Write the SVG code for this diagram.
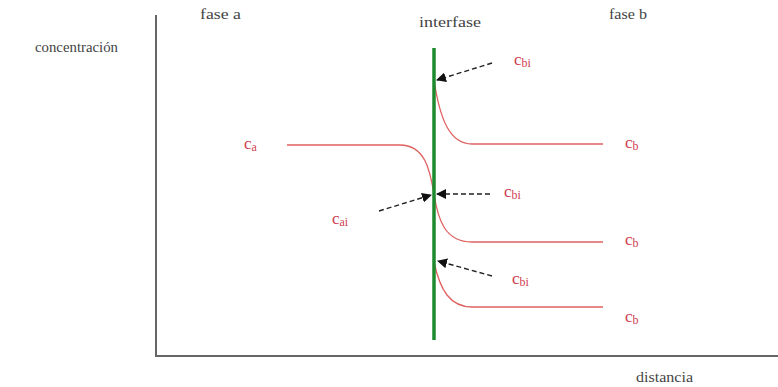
<svg xmlns="http://www.w3.org/2000/svg" width="778" height="387" viewBox="0 0 778 387">
<style>
.t{font-family:"Liberation Serif",serif;font-size:14px;fill:#444}
.r{font-family:"Liberation Serif",serif;font-size:17px;fill:#d04050}
.s{font-size:12px}
.curve{fill:none;stroke:#e06060;stroke-width:1.3}
.arr{fill:none;stroke:#222;stroke-width:1.4;stroke-dasharray:5,3;marker-end:url(#ah)}
</style>
<defs>
<marker id="ah" viewBox="0 0 10 10" refX="9" refY="5" markerWidth="10" markerHeight="10" markerUnits="userSpaceOnUse" orient="auto">
<path d="M0,0 L10,5 L0,10 z" fill="#111"/>
</marker>
</defs>
<rect width="778" height="387" fill="#fff"/>
<g id="axes">
<path d="M156,15 V356 H778" fill="none" stroke="#666" stroke-width="2"/>
</g>
<g id="labels">
<text class="t" x="35" y="52" textLength="83" lengthAdjust="spacingAndGlyphs">concentración</text>
<text class="t" x="200" y="19" textLength="41" lengthAdjust="spacingAndGlyphs">fase a</text>
<text class="t" x="419" y="27" textLength="62" lengthAdjust="spacingAndGlyphs">interfase</text>
<text class="t" x="609" y="19" textLength="38" lengthAdjust="spacingAndGlyphs">fase b</text>
<text class="t" x="636" y="382" textLength="57" lengthAdjust="spacingAndGlyphs">distancia</text>
</g>
<g id="profiles">
<path class="curve" d="M434,80 C440,120 450,144 472,144 H603"/>
<path class="curve" d="M287,145 H400 C425,145 430,170 434,194 C438,220 445,242 472,242 H603"/>
<path class="curve" d="M434,262 C440,290 450,307 472,307 H603"/>
</g>
<g id="interface">
<line x1="434" y1="48" x2="434" y2="340" stroke="#1e8a2e" stroke-width="3.5"/>
</g>
<g id="connectors">
<line class="arr" x1="492" y1="63" x2="437" y2="80"/>
<line class="arr" x1="490" y1="194" x2="437" y2="194"/>
<line class="arr" x1="379" y1="211" x2="431" y2="195"/>
<line class="arr" x1="492" y1="276" x2="438" y2="261"/>
</g>
<g id="conc-labels">
<text class="r" x="244" y="149">c<tspan class="s" dy="2">a</tspan></text>
<text class="r" x="514" y="65">c<tspan class="s" dy="2">bi</tspan></text>
<text class="r" x="504" y="197">c<tspan class="s" dy="2">bi</tspan></text>
<text class="r" x="332" y="224">c<tspan class="s" dy="2">ai</tspan></text>
<text class="r" x="512" y="284">c<tspan class="s" dy="2">bi</tspan></text>
<text class="r" x="625" y="148">c<tspan class="s" dy="2">b</tspan></text>
<text class="r" x="625" y="245">c<tspan class="s" dy="2">b</tspan></text>
<text class="r" x="625" y="322">c<tspan class="s" dy="2">b</tspan></text>
</g>
</svg>
